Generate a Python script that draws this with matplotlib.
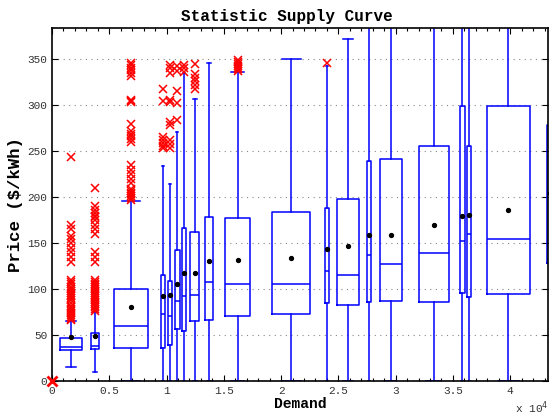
import matplotlib
matplotlib.use("Agg")
import matplotlib.pyplot as plt
from matplotlib.ticker import MultipleLocator, FuncFormatter

# Demand positions of the boxes and box widths (demand units)
positions = [1660, 3760, 6900, 9700, 10300, 10940, 11530, 12470, 13710, 16210,
             20890, 23990, 25850, 27710, 29590, 33320, 35810, 36420, 39830, 43500]
widths = [1900, 700, 3000, 400, 400, 400, 400, 790, 750, 2210,
          3350, 400, 1860, 350, 1890, 2650, 400, 400, 3730, 500]

# Box statistics ($/kWh)
q1 = [34, 35, 36, 36, 39, 57, 54, 65, 66, 71, 73, 85, 83, 86, 87, 86, 96, 91, 95, 128]
medians = [37.5, 38, 60, 73, 71, 87, 93, 94, 108, 105, 106, 120, 115, 137, 127, 139, 152, 160, 155, 192]
q3 = [47, 52, 100, 115, 109, 143, 166, 162, 178, 177, 184, 188, 198, 239, 242, 256, 299, 256, 299, 279]
means = [48, 49, 80, 92.5, 94, 106, 117, 117, 131, 132, 134, 144, 147, 159, 159, 170, 180, 181, 186, 204]
whisk_lo = [15, 10, 0, 0, 0, 0, 0, 0, 0, 0, 0, 0, 0, 0, 0, 0, 0, 0, 0, 0]
whisk_hi = [65, 75, 196, 234, 214, 271, 335, 307, 346, 336, 350, 343, 372, 450, 450, 450, 450, 450, 450, 450]

# Outliers for each box
outliers = [
    [66, 68, 70, 72, 74, 76, 78, 80, 82, 85, 88, 90, 92, 94, 96, 98, 100, 102, 105, 108, 110,
     130, 135, 140, 145, 150, 155, 158, 165, 170, 244],
    [76, 78, 80, 82, 84, 86, 88, 90, 92, 94, 96, 98, 100, 102, 104, 106, 108, 110,
     130, 135, 140, 160, 165, 170, 175, 178, 180, 183, 186, 190, 210],
    [197, 199, 201, 203, 205, 207, 209, 215, 220, 225, 230, 235,
     260, 263, 266, 269, 272, 280, 303, 305, 306, 332, 335, 338, 341, 344, 346],
    [253, 256, 259, 262, 265, 305, 318],
    [254, 258, 262, 278, 282, 303, 306, 335, 340, 344],
    [284, 302, 315, 337, 343],
    [336, 340, 344],
    [318, 322, 326, 330, 334, 345],
    [],
    [337, 339, 341, 343, 345, 347, 349],
    [],
    [346],
    [], [], [], [], [], [], [], [],
]

stats = []
for i in range(len(positions)):
    stats.append(dict(med=medians[i], q1=q1[i], q3=q3[i], mean=means[i],
                      whislo=whisk_lo[i], whishi=whisk_hi[i], fliers=outliers[i]))

fig = plt.figure(figsize=(5.5, 4.15), dpi=100)
ax = fig.add_axes([0.0945, 0.0819, 0.9019, 0.8506])

blue = "#0000ff"
ax.bxp(stats, positions=positions, widths=widths, showmeans=True, manage_ticks=False,
       boxprops=dict(color=blue, linewidth=1.1),
       medianprops=dict(color=blue, linewidth=1.1),
       whiskerprops=dict(color=blue, linewidth=1.1),
       capprops=dict(color=blue, linewidth=1.1),
       flierprops=dict(marker="x", markeredgecolor="red", markersize=6, markeredgewidth=1.1),
       meanprops=dict(marker="o", markerfacecolor="black", markeredgecolor="black", markersize=2.8))

# the lone point at the origin
ax.plot([0], [0], "x", color="red", markersize=7, markeredgewidth=2, clip_on=False, zorder=5)

ax.set_xlim(0, 43300)
ax.set_ylim(0, 384)
ax.yaxis.set_major_locator(MultipleLocator(50))
ax.xaxis.set_major_locator(MultipleLocator(5000))
ax.xaxis.set_minor_locator(MultipleLocator(1000))
ax.xaxis.set_major_formatter(FuncFormatter(lambda v, p: f"{v / 1e4:g}"))
ax.grid(axis="y", linestyle=(0, (1, 4)), color="#888888", linewidth=0.8)

mono = "Liberation Mono"
ax.tick_params(which="both", direction="in", top=True, right=True, labelsize=8,
               labelcolor="#333333", width=0.8)
ax.tick_params(which="major", length=4)
ax.tick_params(which="minor", length=2)
for lab in ax.get_xticklabels() + ax.get_yticklabels():
    lab.set_family(mono)

ax.set_title("Statistic Supply Curve", family=mono, fontweight="bold", fontsize=11.5, x=0.474, pad=5)
ax.set_xlabel("Demand", family=mono, fontweight="bold", fontsize=10.5, labelpad=1)
ax.set_ylabel("Price (\\$/kWh)", family=mono, fontweight="bold", fontsize=12.5, labelpad=3)
ax.text(1.0, -0.052, "x 10$^4$", transform=ax.transAxes, ha="right", va="top",
        family=mono, fontsize=8, color="#333333")

for s in ax.spines.values():
    s.set_linewidth(1.2)

fig.savefig("out.png", dpi=100)
